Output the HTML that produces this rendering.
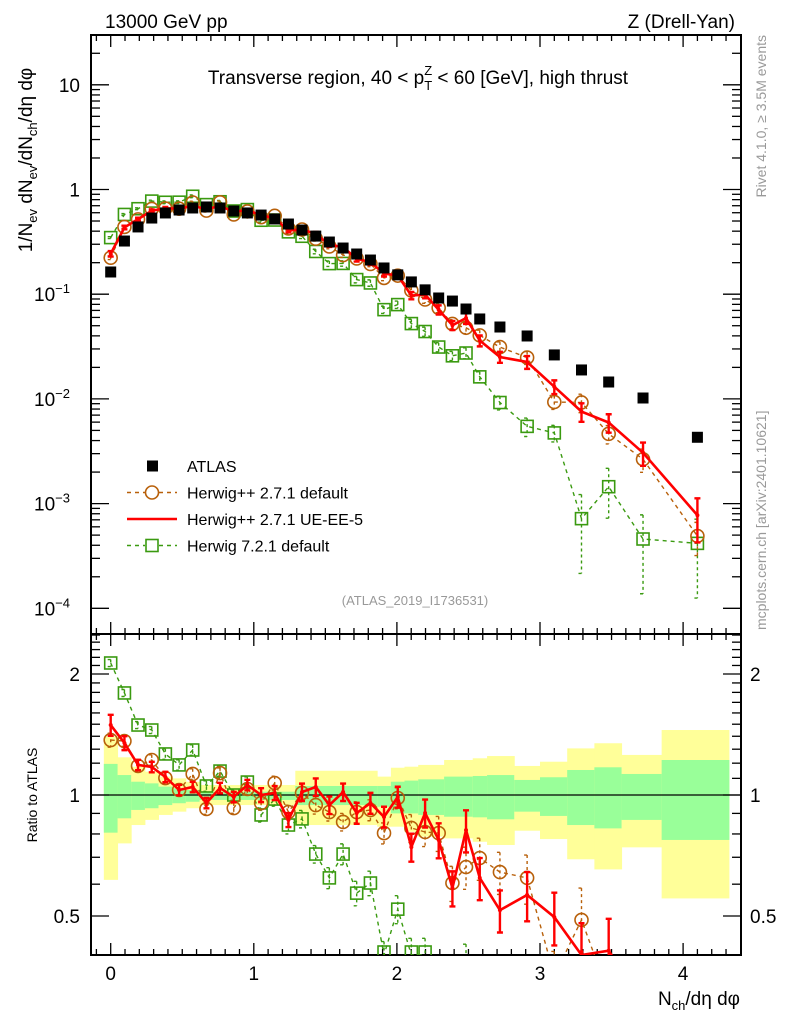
<!DOCTYPE html>
<html><head><meta charset="utf-8">
<style>
html,body{margin:0;padding:0;background:#fff;overflow:hidden;width:786px;height:1024px;}
svg{display:block;font-family:"Liberation Sans",sans-serif;}
</style></head>
<body>
<svg id="chart" width="786" height="1024" viewBox="0 0 786 1024" xmlns="http://www.w3.org/2000/svg">
<defs>
<clipPath id="clipMain"><rect x="91" y="35" width="650" height="599"/></clipPath>
<clipPath id="clipRatio"><rect x="91" y="634" width="650" height="321"/></clipPath>
</defs>
<rect x="0" y="0" width="786" height="1024" fill="#fff"/>
<g id="bands" clip-path="url(#clipRatio)"></g>
<g id="axes"></g>
<g id="mainData" clip-path="url(#clipMain)"></g>
<g id="ratioData" clip-path="url(#clipRatio)"></g>
<g id="labels">
<text x="105" y="28" font-size="19">13000 GeV pp</text>
<text x="735" y="28" font-size="19" text-anchor="end">Z (Drell-Yan)</text>
<text x="418" y="84" font-size="19" text-anchor="middle">Transverse region, 40 &lt; p<tspan font-size="13" dy="6">T</tspan><tspan font-size="13" dx="-8" dy="-15">Z</tspan><tspan dy="9"> &lt; 60 [GeV], high thrust</tspan></text>
<text transform="translate(32,160) rotate(-90)" font-size="19" text-anchor="middle">1/N<tspan font-size="13" dy="5">ev</tspan><tspan dy="-5"> dN</tspan><tspan font-size="13" dy="5">ev</tspan><tspan dy="-5">/dN</tspan><tspan font-size="13" dy="5">ch</tspan><tspan dy="-5">/dη dφ</tspan></text>
<text transform="translate(37,795) rotate(-90)" font-size="14" text-anchor="middle">Ratio to ATLAS</text>
<text x="740" y="1005" font-size="19" text-anchor="end">N<tspan font-size="13" dy="5">ch</tspan><tspan dy="-5">/dη dφ</tspan></text>
<text transform="translate(766,35) rotate(-90)" font-size="14" fill="#999" text-anchor="end">Rivet 4.1.0, ≥ 3.5M events</text>
<text transform="translate(766,630) rotate(-90)" font-size="14" fill="#999" text-anchor="start">mcplots.cern.ch [arXiv:2401.10621]</text>
<text x="415" y="605" font-size="13" fill="#999" text-anchor="middle">(ATLAS_2019_I1736531)</text>
</g>
<g id="legend"></g>
</svg>
<script>
const xVals = [0,0.096,0.191,0.287,0.382,0.478,0.573,0.669,0.764,0.860,0.955,1.051,1.146,1.242,1.337,1.433,1.528,1.624,1.719,1.815,1.910,2.006,2.101,2.197,2.292,2.388,2.483,2.579,2.72,2.91,3.10,3.29,3.48,3.72,4.10];
const atlasVals = [0.163,0.322,0.439,0.534,0.597,0.637,0.666,0.681,0.666,0.623,0.597,0.570,0.523,0.468,0.410,0.359,0.315,0.276,0.242,0.212,0.178,0.153,0.131,0.110,0.092,0.086,0.0722,0.058,0.0486,0.0399,0.0263,0.0189,0.0145,0.0102,0.0043];
const ueRatio = [1.493,1.347,1.188,1.174,1.109,1.029,1.047,0.955,1.041,0.989,1.059,1.0,1.012,0.867,1.017,1.047,0.944,1.017,0.902,0.955,0.882,0.989,0.742,0.902,0.773,0.587,0.818,0.622,0.517,0.564,0.497,0.40,0.41,0.30,0.18];
const defRatio = [1.370,1.362,1.181,1.222,1.102,1.029,1.128,0.923,1.134,0.928,1.035,0.955,1.071,0.907,1.012,0.944,0.907,0.857,0.907,0.918,0.804,0.983,0.828,0.809,0.804,0.604,0.662,0.697,0.643,0.622,0.355,0.489,0.32,0.26,0.114];
const h7Ratio = [2.13,1.794,1.493,1.451,1.265,1.188,1.294,1.053,1.147,1.0,1.077,0.892,0.977,0.842,0.872,0.713,0.622,0.713,0.570,0.604,0.40,0.52,0.40,0.40,0.34,0.30,0.38,0.28,0.19,0.137,0.18,0.038,0.10,0.045,0.097];
const ueErr = [0.06,0.04,0.03,0.03,0.03,0.03,0.03,0.03,0.03,0.03,0.03,0.04,0.04,0.04,0.05,0.05,0.05,0.05,0.06,0.06,0.06,0.06,0.08,0.08,0.1,0.1,0.12,0.12,0.12,0.14,0.15,0.2,0.2,0.25,0.45];
const defErr = [0.04,0.03,0.03,0.03,0.03,0.03,0.03,0.03,0.03,0.03,0.03,0.04,0.04,0.04,0.05,0.05,0.05,0.05,0.06,0.06,0.06,0.06,0.08,0.08,0.1,0.1,0.12,0.12,0.12,0.14,0.15,0.2,0.2,0.25,0.35];
const h7Err = [0.02,0.02,0.02,0.02,0.03,0.03,0.03,0.03,0.03,0.03,0.03,0.04,0.04,0.05,0.05,0.05,0.06,0.06,0.07,0.07,0.08,0.08,0.1,0.1,0.1,0.1,0.12,0.12,0.15,0.2,0.18,0.7,0.5,0.7,0.7];
const bandEdges = [-0.048,0.048,0.143,0.239,0.334,0.430,0.525,0.621,1.290,1.862,1.958,2.053,2.149,2.33,2.53,2.63,2.82,3.0,3.19,3.38,3.57,3.85,4.32];
const yellowUp = [1.397,1.241,1.176,1.143,1.111,1.100,1.079,1.059,1.149,1.111,1.169,1.176,1.188,1.222,1.234,1.250,1.181,1.210,1.306,1.345,1.258,1.451];
const greenUp  = [1.195,1.121,1.079,1.069,1.049,1.039,1.029,1.019,1.053,1.053,1.079,1.086,1.094,1.111,1.115,1.121,1.090,1.107,1.154,1.172,1.128,1.222];
const greenDn  = [0.806,0.875,0.918,0.927,0.944,0.954,0.962,0.972,0.944,0.935,0.900,0.900,0.892,0.883,0.880,0.870,0.909,0.887,0.842,0.826,0.867,0.773];
const yellowDn = [0.615,0.758,0.842,0.867,0.892,0.909,0.927,0.944,0.842,0.834,0.834,0.810,0.788,0.780,0.765,0.751,0.815,0.777,0.692,0.653,0.741,0.553];
const xTickLabels = ["0","1","2","3","4"];
const mainTickLabels = [["10",""],["1",""],["10","−1"],["10","−2"],["10","−3"],["10","−4"]];
const ratioTickLabels = ["0.5","1","2"];

const NS="http://www.w3.org/2000/svg";
const L=91,R=741,T=35,MID=634,B=955;
function X(v){return 110.7+143.1*v;}
function YM(v){return 189.5-104.7*Math.log10(v);}
function YR(r){return 795-402*Math.log10(r);}
function mk(tag,attrs,parent){const e=document.createElementNS(NS,tag);for(const k in attrs)e.setAttribute(k,attrs[k]);parent.appendChild(e);return e;}
const axes=document.getElementById('axes'),bands=document.getElementById('bands'),mainG=document.getElementById('mainData'),ratioG=document.getElementById('ratioData'),legend=document.getElementById('legend');

for(let i=0;i<yellowUp.length;i++){
  const x1=X(bandEdges[i]),x2=X(bandEdges[i+1]);
  let e=mk('rect',{x:x1,y:YR(yellowUp[i]),width:x2-x1+0.5,height:YR(yellowDn[i])-YR(yellowUp[i]),fill:'#ffff99'},bands);
  
  
  e=mk('rect',{x:x1,y:YR(greenUp[i]),width:x2-x1+0.5,height:YR(greenDn[i])-YR(greenUp[i]),fill:'#99ff99'},bands);
  
  
}
let ln=mk('line',{x1:L,x2:R,y1:YR(1),y2:YR(1),stroke:'#000','stroke-width':1.2},bands);



let fr=mk('rect',{x:L,y:T,width:R-L,height:MID-T,fill:'none',stroke:'#000','stroke-width':2},axes);


fr=mk('rect',{x:L,y:MID,width:R-L,height:B-MID,fill:'none',stroke:'#000','stroke-width':2},axes);



for(let k=-1;k<=44;k++){
  const v=k/10, x=X(v); if(x<L+1||x>R-1) continue;
  const major=(k%10===0), len=major?12:6;
  mk('line',{x1:x,x2:x,y1:T,y2:T+len,stroke:'#000','stroke-width':1.3},axes);
  mk('line',{x1:x,x2:x,y1:MID-len,y2:MID+len,stroke:'#000','stroke-width':1.3},axes);
  mk('line',{x1:x,x2:x,y1:B,y2:B-len,stroke:'#000','stroke-width':1.3},axes);
}
xTickLabels.forEach((s,i)=>{
  const t=mk('text',{x:X(i),y:980,'font-size':19,'text-anchor':'middle'},axes); t.textContent=s;
  
  
});
for(let d=-4;d<=1;d++){
  for(let m=1;m<=9;m++){
    const v=m*Math.pow(10,d), y=YM(v); if(y<T||y>MID) continue;
    const len=m===1?18:9;
    mk('line',{x1:L,x2:L+len,y1:y,y2:y,stroke:'#000','stroke-width':1.3},axes);
    mk('line',{x1:R,x2:R-len,y1:y,y2:y,stroke:'#000','stroke-width':1.3},axes);
  }
}
mainTickLabels.forEach((p,i)=>{
  const y=YM(Math.pow(10,1-i))+7;
  const t=mk('text',{x:p[1]?70:80,y:y,'font-size':19,'text-anchor':'end'},axes);
  t.textContent=p[0];
  if(p[1]){const s=mk('tspan',{'font-size':13,dy:-8},t);s.textContent=p[1];}
  
  
});
for(let k=4;k<=25;k++){
  const r=k/10, y=YR(r); if(y<MID||y>B) continue;
  const len=(k===5||k===10||k===20)?18:9;
  mk('line',{x1:L,x2:L+len,y1:y,y2:y,stroke:'#000','stroke-width':1.3},axes);
  mk('line',{x1:R,x2:R-len,y1:y,y2:y,stroke:'#000','stroke-width':1.3},axes);
}
[0.5,1,2].forEach((r,i)=>{
  let t=mk('text',{x:80,y:YR(r)+7,'font-size':19,'text-anchor':'end'},axes); t.textContent=ratioTickLabels[i];
  
  
  t=mk('text',{x:750,y:YR(r)+7,'font-size':19,'text-anchor':'start'},axes); t.textContent=ratioTickLabels[i];
  
  
});

const series=[
 {name:'herwig721-default',ratio:h7Ratio,err:h7Err,color:'#3a9a10',dash:'4,4',width:1.4,marker:'square'},
 {name:'herwigpp271-default',ratio:defRatio,err:defErr,color:'#b8600a',dash:'4,4',width:1.4,marker:'circle'},
 {name:'herwigpp271-ueee5',ratio:ueRatio,err:ueErr,color:'#ff0000',dash:null,width:2.6,marker:'none'}
];
function marker(g,type,x,y,color){
  let e;
  if(type==='square') e=mk('rect',{x:x-6,y:y-6,width:12,height:12,fill:'none',stroke:color,'stroke-width':1.6},g);
  else if(type==='circle') e=mk('circle',{cx:x,cy:y,r:6.5,fill:'none',stroke:color,'stroke-width':1.6},g);
  else e=mk('circle',{cx:x,cy:y,r:2,fill:color},g);
  return e;
}
function drawSeries(g,s,yfun,valfun,panel){
  const pts=xVals.map((x,i)=>[X(x),yfun(valfun(i))]);
  const p=mk('polyline',{points:pts.map(q=>q.join(',')).join(' '),fill:'none',stroke:s.color,'stroke-width':s.width},g);
  if(s.dash)p.setAttribute('stroke-dasharray',s.dash);
  
  
  xVals.forEach((x,i)=>{
    const v=valfun(i), lo=v*(1-s.err[i]), hi=v*(1+s.err[i]);
    const xx=X(x), y1=yfun(hi), y2=yfun(lo);
    const eb=mk('path',{d:`M${xx},${y1}V${y2}M${xx-3},${y1}H${xx+3}M${xx-3},${y2}H${xx+3}`,stroke:s.color,'stroke-width':s.width>2?2.4:1.4,fill:'none'},g);
    if(s.dash)eb.setAttribute('stroke-dasharray','3,3');
    
    
    let y=yfun(v);
    if(panel==='ratio'){ if(v<0.39) return; y=Math.min(y,952); }
    const m=marker(g,s.marker,xx,y,s.color);
    
    
  });
}
series.forEach(s=>{
  drawSeries(mainG,s,YM,i=>atlasVals[i]*s.ratio[i],'main');
  drawSeries(ratioG,s,YR,i=>s.ratio[i],'ratio');
});
atlasVals.forEach((v,i)=>{
  const e=mk('rect',{x:X(xVals[i])-5.5,y:YM(v)-5.5,width:11,height:11,fill:'#000'},mainG);
  
  
});

const legItems=[
 {label:'ATLAS',type:'atlas'},
 {label:'Herwig++ 2.7.1 default',s:series[1]},
 {label:'Herwig++ 2.7.1 UE-EE-5',s:series[2]},
 {label:'Herwig 7.2.1 default',s:series[0]}
];
legItems.forEach((it,i)=>{
  const y=466+i*26.5;
  const g=mk('g',{},legend);
  
  
  if(it.type==='atlas') mk('rect',{x:147,y:y-5.5,width:11,height:11,fill:'#000'},g);
  else{
    const l=mk('line',{x1:127,x2:177,y1:y,y2:y,stroke:it.s.color,'stroke-width':it.s.width},g);
    if(it.s.dash)l.setAttribute('stroke-dasharray',it.s.dash);
    if(it.s.marker!=='none'){mk('rect',{x:145,y:y-8,width:14,height:16,fill:'#fff'},g);marker(g,it.s.marker,152,y,it.s.color);}
  }
  const t=mk('text',{x:187,y:y+6,'font-size':16},g); t.textContent=it.label;
});
</script>
</body></html>
